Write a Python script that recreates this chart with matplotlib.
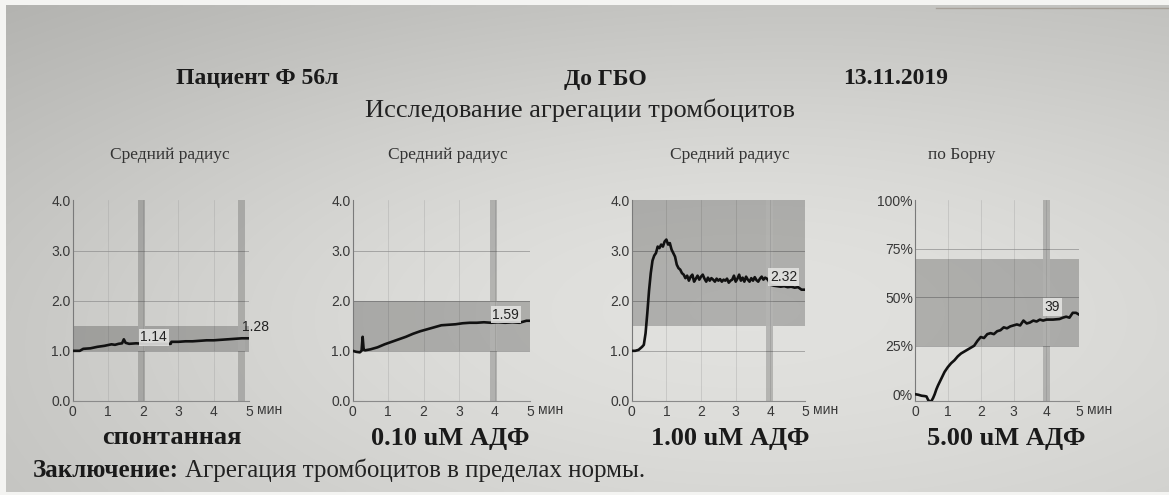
import numpy as np
import matplotlib
matplotlib.use("Agg")
import matplotlib.pyplot as plt

plt.rcParams["font.family"] = ["Liberation Sans", "DejaVu Sans"]
SERIF = ["Liberation Serif", "DejaVu Serif"]

# --- aggregation traces (time, min -> mean radius / Born %) ---
t_spont = [0, 0.2, 0.3, 0.5, 0.7, 0.9, 1.1, 1.2, 1.3, 1.4,
           1.45, 1.5, 1.6, 1.8, 2.0, 2.2, 2.4, 2.6, 2.78, 2.8,
           3.0, 3.2, 3.4, 3.6, 3.8, 4.0, 4.2, 4.4, 4.6, 4.8, 5.0]
r_spont = [1.00, 1.00, 1.04, 1.05, 1.08, 1.10, 1.13, 1.12, 1.14, 1.15,
           1.23, 1.16, 1.14, 1.15, 1.14, 1.13, 1.14, 1.14, 1.14, 1.18,
           1.18, 1.19, 1.19, 1.20, 1.21, 1.21, 1.22, 1.23, 1.24, 1.25, 1.25]

t_adp010 = [0, 0.1, 0.2, 0.25, 0.28, 0.31, 0.35, 0.5, 0.7, 0.9,
            1.1, 1.3, 1.5, 1.7, 1.9, 2.1, 2.3, 2.5, 2.7, 2.9,
            3.1, 3.3, 3.5, 3.7, 3.9, 4.1, 4.3, 4.5, 4.7, 4.9, 5.0]
r_adp010 = [1.00, 0.98, 0.97, 1.00, 1.28, 1.02, 1.01, 1.03, 1.07, 1.13,
            1.18, 1.23, 1.28, 1.34, 1.39, 1.43, 1.47, 1.51, 1.52, 1.53,
            1.55, 1.56, 1.56, 1.57, 1.56, 1.57, 1.56, 1.57, 1.56, 1.60, 1.60]

t_adp100 = [0, 0.1, 0.2, 0.3, 0.35, 0.4, 0.45, 0.5, 0.55, 0.6,
            0.65, 0.7, 0.75, 0.8, 0.85, 0.9, 0.95, 1.0, 1.05, 1.1,
            1.15, 1.2, 1.25, 1.3, 1.35, 1.4, 1.45,
            1.5, 1.55, 1.6, 1.65, 1.7, 1.75, 1.8, 1.85, 1.9, 1.95,
            2.0, 2.05, 2.1, 2.15, 2.2, 2.25, 2.3, 2.35, 2.4, 2.45,
            2.5, 2.55, 2.6, 2.65, 2.7, 2.75, 2.8, 2.85, 2.9, 2.95,
            3.0, 3.05, 3.1, 3.15, 3.2, 3.25, 3.3, 3.35, 3.4, 3.45,
            3.5, 3.55, 3.6, 3.65, 3.7, 3.75, 3.8, 3.85, 3.9,
            3.95, 4.0, 4.1, 4.2, 4.3, 4.4, 4.5, 4.6, 4.7, 4.8, 4.9, 5.0]
r_adp100 = [1.00, 1.00, 1.02, 1.08, 1.12, 1.35, 1.75, 2.20, 2.55, 2.80,
            2.90, 2.95, 3.08, 3.05, 3.12, 3.08, 3.18, 3.22, 3.12, 3.15,
            3.02, 2.95, 2.88, 2.72, 2.65, 2.62, 2.55,
            2.52, 2.45, 2.50, 2.40, 2.48, 2.52, 2.38, 2.44, 2.50, 2.42,
            2.48, 2.52, 2.44, 2.38, 2.46, 2.40, 2.45, 2.42, 2.38, 2.44,
            2.40, 2.43, 2.38, 2.42, 2.40, 2.44, 2.36, 2.40, 2.42, 2.50,
            2.38, 2.44, 2.52, 2.40, 2.46, 2.38, 2.48, 2.42, 2.38, 2.45,
            2.40, 2.47, 2.41, 2.38, 2.44, 2.48, 2.42, 2.46, 2.44,
            2.40, 2.32, 2.30, 2.29, 2.28, 2.29, 2.27, 2.28, 2.26, 2.27, 2.22, 2.22]

t_adp500 = [0, 0.1, 0.2, 0.3, 0.35, 0.4, 0.45, 0.5, 0.55, 0.6,
            0.65, 0.7, 0.8, 0.9, 1.0, 1.1, 1.2, 1.3, 1.4, 1.5,
            1.6, 1.7, 1.8, 1.9, 2.0, 2.1, 2.2, 2.3, 2.4, 2.5,
            2.6, 2.7, 2.8, 2.9, 3.0, 3.1, 3.2, 3.3, 3.4, 3.5,
            3.6, 3.7, 3.8, 3.9, 4.0, 4.2, 4.4, 4.5, 4.6, 4.7,
            4.8, 4.9, 5.0]
born_adp500 = [0.0, -0.3, -0.8, -1.0, -1.2, -3.0, -3.8, -3.5, -2.0, 0.0,
               2.5, 4.5, 8.0, 11.5, 14.0, 16.0, 17.5, 19.5, 21.0, 22.0,
               23.0, 24.0, 25.0, 27.5, 29.5, 29.0, 31.0, 31.5, 31.0, 32.5,
               33.0, 34.5, 34.0, 35.0, 35.5, 36.0, 35.5, 38.0, 36.5, 37.0,
               38.0, 37.5, 38.5, 38.0, 38.5, 38.5, 38.8, 39.5, 40.0, 39.5,
               42.0, 42.0, 41.0]

panel_titles = ["Средний радиус", "Средний радиус", "Средний радиус", "по Борну"]
panel_names = ["спонтанная", "0.10 uM АДФ", "1.00 uM АДФ", "5.00 uM АДФ"]
norm_bands = [(1.0, 1.5), (1.0, 2.0), (1.5, 4.0), (25, 70)]
cursor_x = [[1.95, 4.8], [3.96], [3.97], [4.01]]
readouts = [["1.14", "1.28"], ["1.59"], ["2.32"], ["39"]]
readout_pos = [[(1.92, 1.27), (4.8, 1.48)], [(3.94, 1.72)], [(3.99, 2.47)], [(3.95, 45)]]
readout_box = [[True, False], [True], [True], [True]]
radius_ticks = [0, 1, 2, 3, 4]
radius_labels = ["0.0", "1.0", "2.0", "3.0", "4.0"]
born_ticks = [0, 25, 50, 75, 100]
born_labels = ["0%", "25%", "50%", "75%", "100%"]
time_ticks = [0, 1, 2, 3, 4, 5]

traces = [(t_spont, r_spont), (t_adp010, r_adp010), (t_adp100, r_adp100), (t_adp500, born_adp500)]

W, H = 1169, 495
fig = plt.figure(figsize=(W / 100, H / 100), dpi=100, facecolor="#f4f4f2")

# photographed paper: uneven lighting, darker towards the corners
bg = fig.add_axes([6 / W, 3 / H, 1 - 6 / W, 1 - 8 / H], zorder=-10)
u, v = np.meshgrid(np.linspace(0, 1, 300), np.linspace(0, 1, 130))
base = (165 * (1 - u) * (1 - v) + 175 * u * (1 - v) + 180 * (1 - u) * v + 188 * u * v)
glow = 45 * np.exp(-(((u - 0.58) / 0.75) ** 2 + ((v - 0.55) / 0.7) ** 2))
lum = base + glow
paper = np.dstack([lum + 1, lum + 1, lum - 2]) / 255.0
bg.imshow(np.clip(paper, 0, 1), aspect="auto", extent=(0, 1, 0, 1), interpolation="bilinear")
bg.set_xlim(0, 1)
bg.set_ylim(0, 1)
bg.set_axis_off()
# shadowed paper edge along the top right
bg.plot([0.8, 1.0], [0.993, 0.993], color="#8a7e72", lw=1.0, alpha=0.5)

axes_px = [(72.7, 249.0), (352.7, 530.0), (631.7, 805.0), (915.0, 1079.3)]
bottom, height = 0.19, 0.405

for i, ((x0, x1), (tt, yy)) in enumerate(zip(axes_px, traces)):
    ax = fig.add_axes([x0 / W, bottom, (x1 - x0) / W, height])
    ax.patch.set_alpha(0)
    born = i == 3
    ylim = (-3.5, 100) if born else (0, 4)
    ax.set_xlim(0, 5)
    ax.set_ylim(*ylim)

    # grid
    for gx in time_ticks[1:-1]:
        ax.axvline(gx, color="#9a9a9a", lw=0.5, alpha=0.45, zorder=1)
    for gy in (born_ticks if born else radius_ticks)[1:-1]:
        ax.axhline(gy, color="#8c8c8c", lw=0.6, alpha=0.8, zorder=1)

    # reference range band
    lo, hi = norm_bands[i]
    ax.fill_between([0, 5], lo, hi, color="black", alpha=0.22, lw=0, zorder=2)

    # cursor bands, kept out of the reference band
    span = ylim[1] - ylim[0]
    f_lo, f_hi = (lo - ylim[0]) / span, (hi - ylim[0]) / span
    for cx in cursor_x[i]:
        ax.axvspan(cx - 0.1, cx + 0.1, 0, f_lo, color="black", alpha=0.19, lw=0, zorder=2)
        ax.axvspan(cx - 0.1, cx + 0.1, f_hi, 1, color="black", alpha=0.19, lw=0, zorder=2)
        ax.axvspan(cx - 0.1, cx + 0.1, f_lo, f_hi, color="white", alpha=0.05, lw=0, zorder=2)

    ax.plot(tt, yy, color="#111111", lw=1.9, zorder=3, solid_joinstyle="round")

    for txt, (px, py), boxed in zip(readouts[i], readout_pos[i], readout_box[i]):
        kw = {}
        if boxed:
            kw["bbox"] = dict(boxstyle="square,pad=0.12", fc="#e2e2e0", ec="none", alpha=0.9)
        ax.text(px, py, txt, fontsize=10, color="#222222", ha="left", va="center", zorder=4, **kw)

    for side in ("top", "right"):
        ax.spines[side].set_visible(False)
    ax.spines["left"].set_color("#7a7a7a")
    ax.spines["bottom"].set_color("#8a8a8a")
    ax.spines["left"].set_linewidth(0.8)
    ax.spines["bottom"].set_linewidth(0.8)

    ax.set_xticks(time_ticks)
    ax.set_xticklabels([str(t) for t in time_ticks])
    if born:
        ax.set_yticks(born_ticks)
        ax.set_yticklabels(born_labels)
    else:
        ax.set_yticks(radius_ticks)
        ax.set_yticklabels(radius_labels)
    ax.tick_params(length=0, labelsize=10, labelcolor="#383838")
    ax.tick_params(axis="x", pad=3)
    ax.tick_params(axis="y", pad=1.5)
    ax.text(5.22, -0.046, "мин", transform=ax.get_xaxis_transform(), fontsize=10,
            color="#383838", ha="left", va="center")

# headers
title_cx = [170, 448, 730, 962]
for cx, ttl in zip(title_cx, panel_titles):
    fig.text(cx / W, 1 - 155 / H, ttl, family=SERIF, fontsize=12.5, color="#333333",
             ha="center", va="center")
name_cx = [172, 450, 730, 1006]
for cx, nm in zip(name_cx, panel_names):
    fig.text(cx / W, 1 - 438 / H, nm, family=SERIF, fontsize=19, fontweight="bold",
             color="#1a1a1a", ha="center", va="center")

fig.text(176 / W, 1 - 79 / H, "Пациент Ф 56л", family=SERIF, fontsize=17,
         fontweight="bold", color="#1a1a1a", ha="left", va="center")
fig.text(605 / W, 1 - 79 / H, "До ГБО", family=SERIF, fontsize=17,
         fontweight="bold", color="#1a1a1a", ha="center", va="center")
fig.text(843 / W, 1 - 79 / H, "13.11.2019", family=SERIF, fontsize=17,
         fontweight="bold", color="#1a1a1a", ha="left", va="center")
fig.text(580 / W, 1 - 110 / H, "Исследование агрегации тромбоцитов", family=SERIF,
         fontsize=19, color="#222222", ha="center", va="center")

# conclusion: bold lead-in, regular text continues on the same baseline
base_y = 1 - 477 / H
t1 = fig.text(33 / W, base_y, "Заключение:", family=SERIF, fontsize=18,
              fontweight="bold", color="#1a1a1a", ha="left", va="baseline")
fig.canvas.draw()
x_end = t1.get_window_extent().x1 / fig.bbox.width
fig.text(x_end + 6 / W, base_y, "Агрегация тромбоцитов в пределах нормы.", family=SERIF,
         fontsize=18, color="#222222", ha="left", va="baseline")

fig.savefig("out.png", dpi=100, facecolor=fig.get_facecolor())
